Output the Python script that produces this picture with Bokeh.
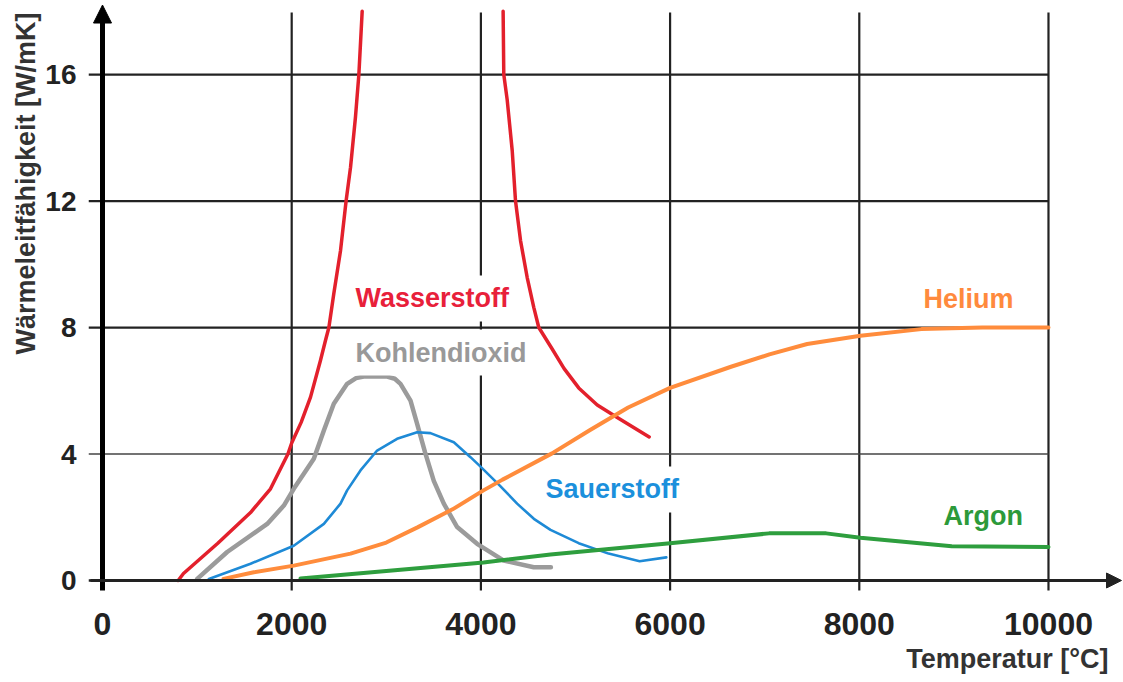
from bokeh.plotting import figure
from bokeh.models import Arrow, NormalHead, Label, FixedTicker, Title
from bokeh.embed import file_html
from bokeh.resources import INLINE

# ---- data ----
x_ticks = [0, 2000, 4000, 6000, 8000, 10000]
y_ticks = [0, 4, 8, 12, 16]
names = ["Wasserstoff", "Kohlendioxid", "Sauerstoff", "Helium", "Argon"]
x_title = "Temperatur [°C]"
y_title = "Wärmeleitfähigkeit [W/mK]"

h2_left_x = [800, 856, 1216, 1565, 1776, 1960, 2000, 2100, 2199, 2304, 2357, 2393, 2445, 2516, 2575, 2622,
             2674, 2710, 2745]
h2_left_y = [0.0, 0.22, 1.17, 2.15, 2.9, 4.0, 4.35, 5.0, 5.8, 6.96, 7.59, 8.0, 9.07, 10.43, 12.0, 13.07,
             14.65, 16.0, 18.0]
h2_right_x = [4235, 4242, 4278, 4331, 4366, 4419, 4489, 4559, 4612, 4752, 4880, 5034, 5230, 5437, 5779]
h2_right_y = [18.0, 16.0, 15.2, 13.6, 12.0, 10.75, 9.59, 8.64, 8.0, 7.33, 6.7, 6.09, 5.55, 5.16, 4.54]

co2_x = [1001, 1318, 1741, 1917, 2022, 2234, 2340, 2445, 2586, 2680, 2762, 3009, 3090, 3150, 3256, 3326,
         3410, 3502, 3608, 3749, 3960, 4242, 4559, 4740]
co2_y = [0.05, 0.9, 1.79, 2.37, 2.9, 3.85, 4.74, 5.59, 6.22, 6.4, 6.45, 6.45, 6.38, 6.22, 5.69, 4.95,
         4.05, 3.15, 2.43, 1.69, 1.16, 0.63, 0.42, 0.42]

o2_x = [1124, 1565, 2022, 2340, 2516, 2586, 2727, 2903, 3114, 3326, 3467, 3714, 3890, 3996, 4200, 4383,
        4560, 4736, 5034, 5350, 5678, 5960]
o2_y = [0.05, 0.53, 1.1, 1.79, 2.43, 2.85, 3.48, 4.11, 4.48, 4.69, 4.66, 4.37, 3.9, 3.6, 3.0, 2.43,
        1.95, 1.6, 1.18, 0.85, 0.61, 0.73]

he_x = [1279, 1600, 2022, 2622, 3000, 3330, 3700, 4027, 4229, 4752, 5150, 5557, 6000, 6644, 7050, 7449,
        8012, 8656, 9300, 10000]
he_y = [0.05, 0.26, 0.47, 0.85, 1.2, 1.68, 2.25, 2.85, 3.19, 4.02, 4.75, 5.47, 6.09, 6.76, 7.15, 7.48,
        7.74, 7.95, 8.0, 8.0]

ar_x = [2093, 3000, 4027, 4736, 6000, 7046, 7650, 8012, 8978, 10000]
ar_y = [0.06, 0.3, 0.57, 0.82, 1.18, 1.49, 1.49, 1.35, 1.08, 1.06]

FONT = "Liberation Sans"

p = figure(width=1123, height=682, x_range=(-148, 10793), y_range=(-0.38, 18.28),
           output_backend="svg", toolbar_location=None,
           min_border_left=88, min_border_right=0, min_border_top=2, min_border_bottom=90)
p.outline_line_color = None
p.grid.visible = False
p.background_fill_color = "white"

# axes (tick labels only; axis lines drawn as arrows)
for ax in (p.xaxis[0], p.yaxis[0]):
    ax.axis_line_color = None
    ax.major_tick_line_color = None
    ax.minor_tick_line_color = None
    ax.major_label_text_font = FONT
    ax.major_label_text_font_style = "bold"
    ax.major_label_text_color = "#222222"

xa = p.xaxis[0]
xa.ticker = FixedTicker(ticks=x_ticks)
xa.major_label_text_font_size = "32px"
xa.major_label_standoff = 14

ya = p.yaxis[0]
ya.ticker = FixedTicker(ticks=y_ticks)
ya.major_label_text_font_size = "28px"
ya.major_label_standoff = 6

# axis titles
p.add_layout(Title(text=x_title, align="right", offset=15, standoff=8,
                   text_font=FONT, text_font_style="bold", text_font_size="27px",
                   text_color="#333333"), "below")
p.add_layout(Title(text=y_title, align="right", offset=10, standoff=4,
                   text_font=FONT, text_font_style="bold", text_font_size="27px",
                   text_color="#333333"), "left")

# grid lines
vx = x_ticks[1:]
p.segment(x0=vx, y0=[-0.32] * len(vx), x1=vx, y1=[17.96] * len(vx), line_color="#222222", line_width=2.2)
hy = [v for v in y_ticks if v not in (0, 4)]
p.segment(x0=[-148] * len(hy), y0=hy, x1=[x_ticks[-1]] * len(hy), y1=hy, line_color="#222222", line_width=2.2)
p.segment(x0=[-148], y0=[y_ticks[1]], x1=[x_ticks[-1]], y1=[y_ticks[1]], line_color="#444444", line_width=1.3)
p.segment(x0=[-148], y0=[0], x1=[0], y1=[0], line_color="#222222", line_width=2.5)

# curves
kw = dict(line_join="round", line_cap="round")
p.line(h2_left_x, h2_left_y, line_color="#e3202c", line_width=3.5, **kw)
p.line(h2_right_x, h2_right_y, line_color="#e3202c", line_width=3.5, **kw)
p.line(co2_x, co2_y, line_color="#9b9b9b", line_width=4.5, **kw)
p.line(o2_x, o2_y, line_color="#1e8ad6", line_width=2.6, **kw)
p.line(he_x, he_y, line_color="#ff8c3c", line_width=4, **kw)
p.line(ar_x, ar_y, line_color="#2e9e3e", line_width=4, **kw)

# axis arrows
p.add_layout(Arrow(end=NormalHead(size=18, fill_color="black", line_color="black"),
                   x_start=0, y_start=-0.32, x_end=0, y_end=18.2,
                   line_width=5, line_color="black"))
p.add_layout(Arrow(end=NormalHead(size=15, fill_color="#222222", line_color="#222222"),
                   x_start=-127, y_start=0, x_end=10772, y_end=0,
                   line_width=3, line_color="#222222"))

# series labels
label_specs = [
    (names[0], 2590, 8.92, "#e8203a"),
    (names[1], 2590, 7.21, "#999999"),
    (names[2], 4598, 2.88, "#1b90dc"),
    (names[3], 8594, 8.89, "#ff8a3d"),
    (names[4], 8805, 2.05, "#2d9a3a"),
]
for txt, lx, ly, col in label_specs:
    lab = Label(x=lx, y=ly, text=txt, text_color=col, text_font=FONT, text_font_style="bold",
                text_font_size="27px", text_baseline="middle", text_align="left",
                background_fill_color="white", background_fill_alpha=1.0)
    if "padding" in lab.properties():
        lab.padding = 8
    p.add_layout(lab)

open("out.html", "w").write(file_html(p, INLINE))
